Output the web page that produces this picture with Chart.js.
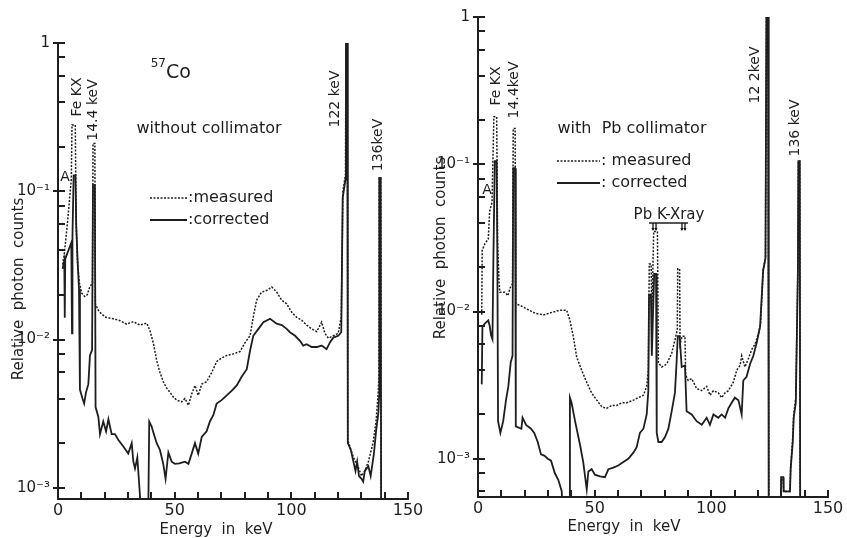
<!DOCTYPE html>
<html>
<head>
<meta charset="utf-8">
<script src="https://cdn.jsdelivr.net/npm/chart.js@4.4.1/dist/chart.umd.min.js"></script>
<style>
  html, body { margin: 0; padding: 0; background: #fff; }
  #wrap { position: relative; width: 847px; height: 538px; overflow: hidden; background: #fff; }
  canvas { position: absolute; top: 0; }
  #left { left: 0; }
  #right { left: 420px; }
</style>
</head>
<body>
<div id="wrap">
  <canvas id="left" width="440" height="538"></canvas>
  <canvas id="right" width="427" height="538"></canvas>
</div>
<script>
  // axis ticks
  const xLabelTicks = [0, 50, 100, 150];
  const xTickMarks = [10, 20, 30, 40, 50, 60, 70, 80, 90, 100, 110, 120, 130, 140, 150];
  const yTickValues = [1, 0.1, 0.01, 0.001];
  const yTickLabels = ["1", "10⁻¹", "10⁻²", "10⁻³"];
  const yMinorTicks = [0.8, 0.6, 0.4, 0.2, 0.08, 0.06, 0.04, 0.02, 0.008, 0.006, 0.004, 0.002, 0.0008, 0.0006];

  // Pb K x-ray lines marked over the right panel (keV, as drawn)
  const pbArrows = [75.0, 76.3, 87.4, 88.7];

  // spectra: [energy keV, relative counts]
  const leftMeasured = [
    [2.0, 0.032], [2.6, 0.037], [3.4, 0.048], [4.4, 0.070], [5.2, 0.098], [5.7, 0.12],
    [6.0, 0.28], [7.4, 0.28], [7.8, 0.058], [8.4, 0.032], [9.2, 0.024], [10.2, 0.0205],
    [11.5, 0.0195], [12.5, 0.020], [13.6, 0.0226], [14.8, 0.024], [15.0, 0.21], [15.8, 0.21],
    [16.0, 0.0174], [17.5, 0.0155], [20.1, 0.0142], [23.7, 0.0138], [26.6, 0.0134], [29.4, 0.0127],
    [32.3, 0.0132], [35.1, 0.0125], [38.0, 0.0129], [39.4, 0.0115], [40.9, 0.0094], [42.3, 0.0072],
    [43.7, 0.0060], [45.1, 0.0052], [46.6, 0.0047], [48.0, 0.0044], [49.4, 0.0041], [50.9, 0.0039],
    [53.0, 0.0038], [54.4, 0.0040], [55.9, 0.0036], [57.3, 0.0043], [58.7, 0.0049], [60.1, 0.0042],
    [61.6, 0.0050], [63.7, 0.0052], [65.9, 0.0060], [68.0, 0.0071], [70.1, 0.0075], [72.3, 0.0078],
    [75.1, 0.0080], [78.0, 0.0083], [80.1, 0.0095], [82.3, 0.0106], [83.7, 0.0142], [85.1, 0.0184],
    [87.3, 0.0209], [89.4, 0.0214], [91.6, 0.0226], [93.7, 0.0209], [95.9, 0.0184], [98.0, 0.0174],
    [100.1, 0.0153], [102.3, 0.0141], [104.4, 0.0135], [106.6, 0.0125], [108.7, 0.0118], [110.9, 0.0113],
    [113.0, 0.0131], [114.4, 0.0110], [115.9, 0.0102], [118.0, 0.0106], [120.1, 0.0110], [121.4, 0.0142],
    [122.1, 0.10], [123.2, 0.13], [123.4, 1.0], [124.0, 1.0], [124.2, 0.0021], [126.6, 0.0016],
    [128.5, 0.0014], [130.1, 0.0012], [131.5, 0.0013], [133.0, 0.0015], [135.0, 0.0020], [136.3, 0.0028],
    [137.3, 0.0045], [137.6, 0.0059], [137.7, 0.123], [138.3, 0.123], [138.5, 0.0005]
  ];
  const leftCorrected = [
    [2.0, 0.030], [2.7, 0.034], [2.9, 0.014], [3.1, 0.035], [4.5, 0.040], [5.7, 0.045],
    [6.0, 0.011], [6.2, 0.05], [6.7, 0.128], [7.5, 0.128], [7.8, 0.06], [8.4, 0.034],
    [9.0, 0.022], [9.4, 0.0046], [10.5, 0.0040], [11.2, 0.0037], [12.0, 0.0044], [13.0, 0.0050],
    [13.7, 0.0078], [14.6, 0.0085], [15.0, 0.11], [15.8, 0.11], [16.1, 0.0035], [17.3, 0.0030],
    [18.0, 0.0023], [19.4, 0.0028], [20.6, 0.0024], [21.6, 0.0029], [23.0, 0.0023], [24.4, 0.0023],
    [25.9, 0.0021], [28.0, 0.0019], [30.1, 0.0017], [31.6, 0.0020], [32.3, 0.0015], [33.0, 0.00135],
    [34.0, 0.0016], [35.1, 0.0009], [36.0, 0.0005], [38.6, 0.0005], [39.1, 0.0028], [40.1, 0.0026],
    [41.1, 0.0023], [42.3, 0.0020], [43.7, 0.0018], [45.1, 0.00145], [46.1, 0.00115], [47.3, 0.00173],
    [48.7, 0.0015], [50.1, 0.00145], [52.0, 0.00146], [54.4, 0.0015], [55.9, 0.00145], [57.3, 0.0017],
    [58.7, 0.0020], [60.1, 0.0017], [61.6, 0.0022], [63.7, 0.0024], [65.1, 0.0028], [66.6, 0.0031],
    [68.0, 0.0037], [70.1, 0.0039], [72.3, 0.0042], [74.4, 0.0045], [76.6, 0.0049], [78.7, 0.0056],
    [80.9, 0.0063], [82.3, 0.0084], [83.7, 0.0106], [85.9, 0.0118], [88.0, 0.0131], [90.9, 0.0138],
    [93.7, 0.0128], [95.9, 0.0125], [98.0, 0.0118], [99.4, 0.0112], [101.6, 0.0106], [103.7, 0.0098],
    [105.1, 0.0091], [106.6, 0.0093], [108.7, 0.0089], [110.9, 0.0089], [113.0, 0.0091], [115.1, 0.0086],
    [116.6, 0.0096], [118.0, 0.0103], [120.1, 0.0106], [121.4, 0.0112], [122.0, 0.09], [123.2, 0.12],
    [123.4, 1.0], [124.0, 1.0], [124.2, 0.0020], [125.5, 0.0018], [126.6, 0.0015], [127.5, 0.0013],
    [128.2, 0.0015], [129.0, 0.0012], [130.1, 0.00115], [130.8, 0.0011], [131.5, 0.0013], [133.0, 0.0014],
    [134.0, 0.0012], [135.4, 0.0017], [136.3, 0.0024], [137.3, 0.0032], [137.6, 0.0041], [137.7, 0.123],
    [138.3, 0.123], [138.5, 0.0005]
  ];
  const rightMeasured = [
    [1.6, 0.0095], [1.8, 0.026], [3.0, 0.029], [4.4, 0.031], [5.0, 0.048], [6.0, 0.055],
    [6.8, 0.21], [8.0, 0.21], [8.4, 0.030], [9.0, 0.016], [9.4, 0.0135], [11.5, 0.0135],
    [12.8, 0.0128], [13.8, 0.0145], [14.8, 0.0155], [15.1, 0.175], [15.9, 0.175], [16.2, 0.0113],
    [19.1, 0.0108], [21.9, 0.0102], [24.7, 0.0097], [28.3, 0.0095], [32.0, 0.0099], [35.0, 0.0102],
    [38.0, 0.0102], [39.4, 0.0087], [40.9, 0.0067], [42.3, 0.0049], [44.4, 0.0040], [46.6, 0.0033],
    [48.7, 0.0028], [50.9, 0.0025], [53.0, 0.00226], [55.1, 0.0022], [57.3, 0.0023], [59.4, 0.0023],
    [61.6, 0.0024], [63.7, 0.0024], [66.6, 0.0025], [68.7, 0.0026], [70.9, 0.0027], [72.3, 0.0031],
    [73.0, 0.0040], [73.4, 0.021], [74.2, 0.021], [74.5, 0.009], [75.3, 0.035], [76.9, 0.035],
    [77.3, 0.0045], [78.7, 0.0042], [80.9, 0.0044], [83.0, 0.0052], [84.4, 0.0064], [85.4, 0.0075],
    [85.6, 0.0195], [86.4, 0.0195], [86.6, 0.0060], [87.5, 0.0068], [88.7, 0.0068], [89.0, 0.0037],
    [90.1, 0.0034], [91.6, 0.0035], [93.7, 0.0030], [95.9, 0.0029], [98.0, 0.0031], [99.4, 0.0027],
    [100.9, 0.0029], [103.0, 0.0028], [104.4, 0.0026], [105.9, 0.0028], [107.3, 0.0029], [109.4, 0.0033],
    [110.9, 0.0040], [112.3, 0.0043], [113.0, 0.0050], [114.4, 0.0042], [115.9, 0.0048], [117.3, 0.0055],
    [118.7, 0.0060], [120.1, 0.0070], [121.1, 0.0082], [122.2, 0.019], [123.2, 0.023], [123.6, 1.0],
    [124.3, 1.0], [124.5, 0.023], [124.7, 0.0003], [129.8, 0.0003], [129.9, 0.00072], [130.8, 0.00072],
    [131.0, 0.0006], [133.7, 0.0006], [134.0, 0.00088], [134.9, 0.0014], [135.3, 0.0020], [136.2, 0.0026],
    [136.6, 0.0065], [137.1, 0.020], [137.3, 0.105], [137.9, 0.105], [138.1, 0.0003]
  ];
  const rightCorrected = [
    [1.6, 0.0032], [1.9, 0.0079], [3.0, 0.0083], [4.4, 0.0087], [5.0, 0.0080], [5.6, 0.0069],
    [6.2, 0.0065], [6.6, 0.023], [7.2, 0.105], [8.0, 0.105], [8.3, 0.023], [8.6, 0.0018],
    [9.6, 0.0015], [10.8, 0.0018], [12.0, 0.0025], [13.0, 0.0031], [14.0, 0.0045], [14.8, 0.0050],
    [15.1, 0.094], [15.9, 0.094], [16.2, 0.00166], [18.6, 0.0016], [19.1, 0.0019], [20.6, 0.0017],
    [22.7, 0.0016], [24.1, 0.0015], [25.6, 0.0013], [27.0, 0.00107], [28.4, 0.00105], [29.9, 0.0010],
    [31.3, 0.00097], [32.9, 0.0008], [34.4, 0.00072], [35.9, 0.0006], [36.5, 0.0003], [39.0, 0.0003],
    [39.4, 0.0026], [40.1, 0.0024], [41.6, 0.0018], [43.7, 0.00125], [45.1, 0.00095], [46.6, 0.00062],
    [47.3, 0.00082], [48.7, 0.00085], [50.1, 0.00078], [52.3, 0.00076], [54.4, 0.00075], [55.9, 0.00085],
    [58.0, 0.00087], [60.1, 0.0009], [62.3, 0.00095], [64.4, 0.0010], [66.6, 0.0011], [68.0, 0.0012],
    [69.4, 0.0015], [70.9, 0.0016], [72.3, 0.0020], [73.0, 0.0029], [73.3, 0.013], [74.1, 0.013],
    [74.5, 0.005], [75.5, 0.018], [76.3, 0.018], [76.6, 0.0015], [77.3, 0.0013], [78.7, 0.0013],
    [80.1, 0.0014], [81.6, 0.0016], [83.0, 0.0021], [84.4, 0.0028], [85.1, 0.0045], [85.6, 0.0068],
    [86.4, 0.0068], [87.3, 0.0042], [88.7, 0.0043], [89.4, 0.0021], [91.6, 0.0020], [93.7, 0.0018],
    [95.9, 0.0017], [98.0, 0.0019], [99.4, 0.0017], [100.9, 0.0020], [103.0, 0.0019], [104.4, 0.0020],
    [105.9, 0.0019], [107.3, 0.0022], [108.7, 0.0024], [110.1, 0.0026], [111.6, 0.0025], [113.0, 0.0020],
    [113.7, 0.0034], [115.1, 0.0036], [116.6, 0.0044], [118.0, 0.0050], [119.4, 0.0061], [120.9, 0.0079],
    [122.2, 0.019], [123.2, 0.023], [123.6, 1.0], [124.3, 1.0], [124.5, 0.023], [124.7, 0.0003],
    [129.8, 0.0003], [129.9, 0.00075], [130.8, 0.00075], [131.0, 0.0006], [133.7, 0.0006], [134.0, 0.00085],
    [134.9, 0.0013], [135.3, 0.0019], [136.2, 0.0024], [136.6, 0.0060], [137.1, 0.019], [137.3, 0.105],
    [137.9, 0.105], [138.1, 0.0003]
  ];

  const INK = "#1e1e1e";
  const FONT = "'DejaVu Sans', sans-serif";
  Chart.defaults.font.family = FONT;
  Chart.defaults.color = INK;

  function toPoints(pairs) {
    return pairs.map(([x, y]) => ({ x: x, y: y }));
  }

  function line(ctx, x1, y1, x2, y2) {
    ctx.beginPath();
    ctx.moveTo(x1, y1);
    ctx.lineTo(x2, y2);
    ctx.stroke();
  }

  function label(ctx, str, x, y, size, align) {
    ctx.font = size + "px " + FONT;
    ctx.textAlign = align || "center";
    ctx.textBaseline = "middle";
    ctx.fillText(str, x, y);
  }

  function vlabel(ctx, str, x, y, size) {
    ctx.save();
    ctx.translate(x, y);
    ctx.rotate(-Math.PI / 2);
    label(ctx, str, 0, 0, size);
    ctx.restore();
  }

  // tick marks, titles and notes drawn over each panel
  const decor = {
    id: "decor",
    afterDraw(chart, args, o) {
      const ctx = chart.ctx;
      const area = chart.chartArea;
      const xs = chart.scales.x;
      const ys = chart.scales.y;
      const left = Math.round(area.left);
      const bottom = Math.round(area.bottom);
      ctx.save();
      ctx.setLineDash([]);
      ctx.strokeStyle = INK;
      ctx.fillStyle = INK;
      ctx.lineWidth = 1.6;

      // inward tick marks
      yTickValues.forEach((v) => {
        const y = Math.round(ys.getPixelForValue(v));
        if (y <= bottom) ctx.fillRect(left - 5, y - 1, 12, 2);
      });
      yMinorTicks.forEach((v) => {
        const y = Math.round(ys.getPixelForValue(v));
        if (y < bottom - 2) ctx.fillRect(left, y - 1, 7, 2);
      });
      xTickMarks.forEach((v) => {
        const x = Math.round(xs.getPixelForValue(v));
        ctx.fillRect(x - 1, bottom - 7, 2, 7);
      });

      vlabel(ctx, "Relative  photon  counts", o.yTitle[0], o.yTitle[1], 15);
      label(ctx, "Energy  in  keV", o.xTitle[0], o.xTitle[1], 15);
      label(ctx, o.heading, o.headingAt[0], o.headingAt[1], 16);
      label(ctx, "A", o.aAt[0], o.aAt[1], 14);

      // legend
      const [lx1, lx2, ly, gap] = o.legend;
      ctx.lineWidth = 1.5;
      ctx.setLineDash([2, 1.5]);
      line(ctx, lx1, ly, lx2, ly);
      ctx.setLineDash([]);
      ctx.lineWidth = 1.8;
      line(ctx, lx1, ly + gap, lx2, ly + gap);
      label(ctx, o.sep + "measured", lx2 + 1, ly, 16, "left");
      label(ctx, o.sep + "corrected", lx2 + 1, ly + gap, 16, "left");

      o.peakLabels.forEach(([str, x, y]) => vlabel(ctx, str, x, y, 14));

      if (o.cobalt) {
        label(ctx, "57", o.cobalt[0], o.cobalt[1] - 9, 12, "right");
        label(ctx, "Co", o.cobalt[0], o.cobalt[1], 19, "left");
      }

      if (o.pb) {
        const [px, py] = o.pb;
        label(ctx, "Pb K-Xray", px, py, 15);
        const by = py + 8;
        const xa = xs.getPixelForValue(pbArrows[0]) - 4;
        const xb = xs.getPixelForValue(pbArrows[pbArrows.length - 1]) + 3;
        ctx.lineWidth = 1.4;
        line(ctx, xa, by, xb, by);
        pbArrows.forEach((e) => {
          const x = xs.getPixelForValue(e);
          line(ctx, x, by, x, by + 7);
          ctx.beginPath();
          ctx.moveTo(x - 1.6, by + 5);
          ctx.lineTo(x + 1.6, by + 5);
          ctx.lineTo(x, by + 8);
          ctx.closePath();
          ctx.fill();
        });
      }
      ctx.restore();
    },
  };

  function makeChart(id, cfg) {
    return new Chart(document.getElementById(id), {
      type: "line",
      data: {
        datasets: [
          { data: toPoints(cfg.measured), borderColor: INK, borderWidth: 1.5, borderDash: [2, 1.5] },
          { data: toPoints(cfg.corrected), borderColor: INK, borderWidth: 1.8 },
        ],
      },
      options: {
        responsive: false,
        animation: false,
        devicePixelRatio: 1,
        elements: { point: { radius: 0 }, line: { tension: 0 } },
        layout: { padding: { top: cfg.top, right: cfg.right, left: 0, bottom: 0 } },
        plugins: {
          legend: { display: false },
          tooltip: { enabled: false },
          decor: cfg.notes,
        },
        scales: {
          x: {
            type: "linear",
            min: 0,
            max: 150,
            afterBuildTicks: (s) => { s.ticks = xLabelTicks.map((v) => ({ value: v })); },
            afterFit: (s) => { s.height = cfg.xHeight; },
            ticks: { autoSkip: false, maxRotation: 0, padding: 2, font: { size: 16 }, color: INK },
            grid: { display: false, drawTicks: false },
            border: { display: true, color: INK, width: 2 },
          },
          y: {
            type: "logarithmic",
            min: cfg.ymin,
            max: 1,
            afterBuildTicks: (s) => { s.ticks = yTickValues.map((v) => ({ value: v })); },
            afterFit: (s) => { s.width = 58; },
            ticks: {
              padding: 8,
              font: { size: 15 },
              color: INK,
              callback: (v, i) => yTickLabels[i],
            },
            grid: { display: false, drawTicks: false },
            border: { display: true, color: INK, width: 2 },
          },
        },
      },
      plugins: [decor],
    });
  }

  makeChart("left", {
    measured: leftMeasured,
    corrected: leftCorrected,
    ymin: 0.00084,
    top: 43,
    right: 32,
    xHeight: 39,
    notes: {
      yTitle: [19, 289],
      xTitle: [216, 530],
      heading: "without collimator",
      headingAt: [209, 129],
      aAt: [65, 177],
      legend: [150, 187, 198, 22],
      sep: ":",
      peakLabels: [["Fe KX", 77, 97], ["14.4 keV", 93, 110], ["122 keV", 335, 99], ["136keV", 378, 145]],
      cobalt: [166, 73],
    },
  });

  makeChart("right", {
    measured: rightMeasured,
    corrected: rightCorrected,
    ymin: 0.00055,
    top: 15,
    right: 19,
    xHeight: 41,
    notes: {
      yTitle: [21, 248],
      xTitle: [204, 527],
      heading: "with  Pb collimator",
      headingAt: [212, 129],
      aAt: [67, 190],
      legend: [137, 180, 161, 22],
      sep: ": ",
      peakLabels: [["Fe KX", 76, 86], ["14.4keV", 94, 90], ["12 2keV", 335, 75], ["136 keV", 375, 128]],
      pb: [249, 215],
    },
  });
</script>
</body>
</html>
